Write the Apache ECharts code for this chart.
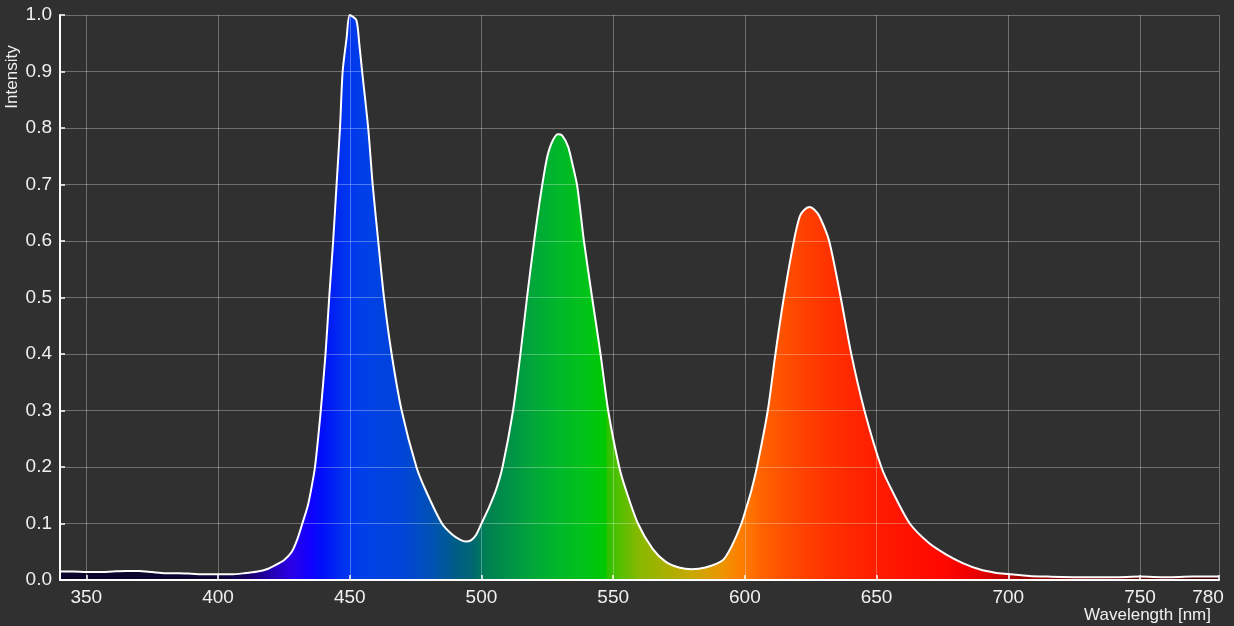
<!DOCTYPE html>
<html>
<head>
<meta charset="utf-8">
<script src="https://cdn.jsdelivr.net/npm/echarts@6/dist/echarts.min.js"></script>
<style>
  html, body { margin: 0; padding: 0; background: #303030; }
  #chart { width: 1234px; height: 626px; }
</style>
</head>
<body>
<div id="chart"></div>
<script>
// 波长 (nm) 与 强度
const wavelength = [
  340, 345, 350, 355, 360, 365, 370, 375, 380, 385, 390, 395, 400, 405, 410, 415, 418.5, 422, 425, 428,
  430, 432, 434, 435.3, 436.8, 439, 440.8, 442.2, 443.7, 445, 446.3, 447.3, 448.8, 450, 452.5, 453.6,
  454.7, 457, 458.7, 460.8, 463, 465.9, 469.7, 475.3, 478.9, 485, 489, 492, 494, 496, 498, 500, 503,
  505.5, 508, 512, 514.8, 517.3, 520, 522.2, 524.7, 526.6, 529, 530.6, 532.9, 534.8, 536.3, 537.5, 538.9,
  542, 545.2, 548.1, 552.3, 554.8, 559.4, 565, 570, 575, 579.7, 585, 591.6, 595, 598.7, 601, 602.5,
  604.6, 608.7, 611.6, 614.8, 618.6, 620.8, 622.5, 624.6, 626.5, 628.4, 632, 636.4, 640.4, 645.4, 651.8,
  656, 662.6, 670, 676.5, 682.7, 689, 695, 700, 708, 715, 727, 740, 750, 760, 770, 780
];
const intensity = [
  0.015, 0.015, 0.014, 0.014, 0.015, 0.016, 0.016, 0.014, 0.012, 0.012, 0.011, 0.010, 0.010, 0.010, 0.012, 0.015, 0.019, 0.027, 0.035, 0.050,
  0.071, 0.100, 0.130, 0.159, 0.200, 0.300, 0.400, 0.500, 0.600, 0.700, 0.800, 0.900, 0.959, 1.000, 0.991, 0.950,
  0.900, 0.800, 0.700, 0.600, 0.500, 0.400, 0.300, 0.200, 0.158, 0.100, 0.080, 0.071, 0.068, 0.070, 0.080, 0.100, 0.130,
  0.159, 0.200, 0.300, 0.400, 0.500, 0.600, 0.673, 0.743, 0.773, 0.789, 0.787, 0.767, 0.731, 0.699, 0.655, 0.600,
  0.500, 0.400, 0.300, 0.200, 0.160, 0.100, 0.055, 0.032, 0.022, 0.019, 0.022, 0.035, 0.060, 0.100, 0.135, 0.159,
  0.200, 0.300, 0.400, 0.500, 0.600, 0.643, 0.655, 0.660, 0.655, 0.643, 0.600, 0.500, 0.400, 0.300, 0.200,
  0.157, 0.100, 0.065, 0.045, 0.030, 0.019, 0.013, 0.0106, 0.007, 0.006, 0.005, 0.005, 0.006, 0.005, 0.006, 0.006
];
// 坐标轴刻度
const xTicks = [350, 400, 450, 500, 550, 600, 650, 700, 750, 780];
const xMin = 340;
const xMax = 780;

// 光谱颜色 (波长 -> 颜色)
const spectrumNm = [340, 400, 410, 420, 428, 435, 440, 447, 455, 470, 480, 490, 497, 502, 510, 520, 530, 540, 547, 548,
  552, 560, 570, 580, 590, 598, 606, 615, 625, 640, 655, 675, 685, 695, 705, 730, 780];
const spectrumColor = ['#0a0528', '#0c0535', '#150060', '#2400b0', '#2a00e8', '#1000ff', '#0010f8', '#0030f0', '#0040e8',
  '#0044d8', '#0050b8', '#005c88', '#006870', '#008050', '#009048', '#00a838', '#00b828', '#00c418', '#00c800', '#30c000',
  '#50c000', '#88b800', '#a8b000', '#c8a800', '#e89800', '#ff8000', '#ff6400', '#ff5000', '#ff3c00', '#ff2800', '#ff1800',
  '#ff0800', '#f00000', '#d00000', '#a00000', '#700000', '#400000'];

let data = [];
for (let i = 0; i < wavelength.length; i++) {
    data.push([wavelength[i], intensity[i]]);
}
let colorStops = [];
for (let i = 0; i < spectrumNm.length; i++) {
    colorStops.push({ offset: (spectrumNm[i] - xMin) / (xMax - xMin), color: spectrumColor[i] });
}

const fontFamily = 'Liberation Sans, Arial, sans-serif';
const labelFont = { color: '#f0f0f0', fontSize: 19, fontFamily: fontFamily };
const gridColor = 'rgba(255,255,255,0.3)';

var myChart = echarts.init(document.getElementById('chart'));
option = {
    backgroundColor: '#303030',
    animation: false,
    grid: { left: 60, right: 15, top: 15, bottom: 46, containLabel: false, outerBoundsMode: 'none' },
    xAxis: {
        type: 'value',
        min: xMin,
        max: xMax,
        z: 5,
        axisLine: { lineStyle: { color: '#ffffff', width: 2 } },
        axisTick: { show: true, inside: true, length: 5, customValues: xTicks, lineStyle: { color: '#ffffff', width: 1.5 } },
        axisLabel: Object.assign({
            customValues: xTicks,
            margin: 8,
            // 780 标签往左挪一点，避免超出画布
            formatter: function (v) { return v === xMax ? '{end|' + v + '}' : v; },
            rich: { end: { color: '#f0f0f0', fontSize: 19, fontFamily: fontFamily, padding: [0, 22, 0, 0] } }
        }, labelFont),
        splitLine: { show: true, lineStyle: { color: gridColor, width: 1 } }
    },
    yAxis: {
        type: 'value',
        min: 0,
        max: 1,
        interval: 0.1,
        z: 5,
        axisLine: { show: true, lineStyle: { color: '#ffffff', width: 2 } },
        axisTick: { show: true, inside: true, length: 5, lineStyle: { color: '#ffffff', width: 1.5 } },
        axisLabel: Object.assign({
            margin: 8,
            formatter: function (v) { return v.toFixed(1); }
        }, labelFont),
        splitLine: { show: true, lineStyle: { color: gridColor, width: 1 } }
    },
    // 坐标轴名称
    graphic: [
        {
            type: 'text',
            x: 12,
            y: 77,
            rotation: Math.PI / 2,
            style: {
                text: 'Intensity',
                fill: '#f0f0f0',
                fontSize: 17,
                fontFamily: fontFamily,
                align: 'center',
                verticalAlign: 'middle'
            }
        },
        {
            type: 'text',
            x: 1211,
            y: 615,
            style: {
                text: 'Wavelength [nm]',
                fill: '#f0f0f0',
                fontSize: 17,
                fontFamily: fontFamily,
                align: 'right',
                verticalAlign: 'middle'
            }
        }
    ],
    series: [
        {
            type: 'line',
            data: data,
            smooth: 0.25,
            symbol: 'none',
            z: 2,
            lineStyle: { color: '#ffffff', width: 2 },
            areaStyle: {
                opacity: 1,
                color: new echarts.graphic.LinearGradient(0, 0, 1, 0, colorStops)
            }
        }
    ]
};
myChart.setOption(option);
</script>
</body>
</html>
